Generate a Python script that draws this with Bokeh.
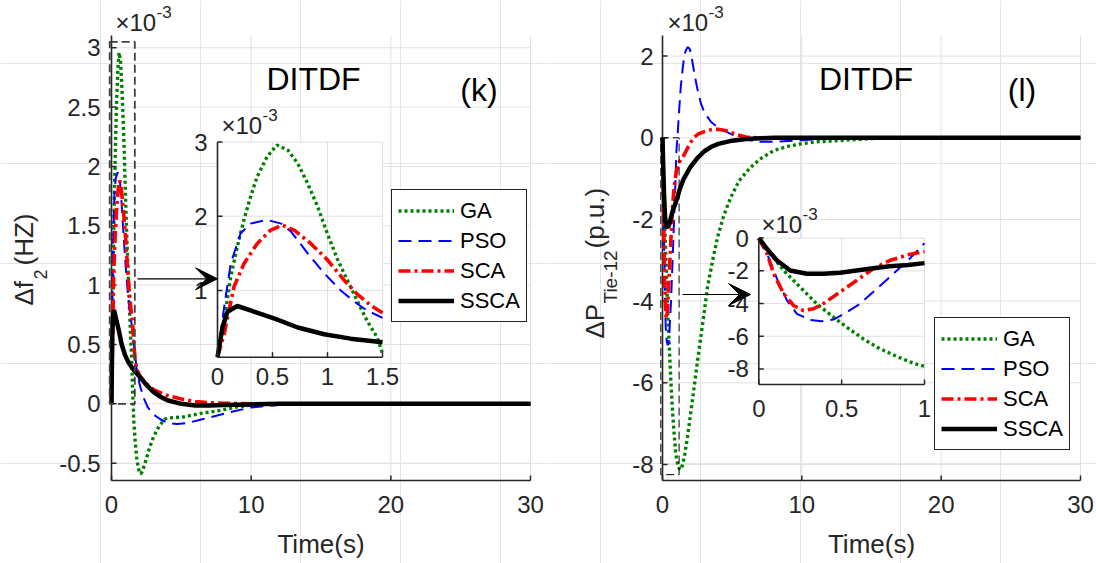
import math
from bokeh.plotting import figure
from bokeh.layouts import row
from bokeh.models import Range1d, Arrow, VeeHead, Legend, LegendItem
from bokeh.core.properties import value
from bokeh.embed import file_html
from bokeh.resources import INLINE

FONT = "Liberation Sans"
AX = "#262626"
GRID = "#e0e0e0"
H = 563

# ---------------- data (values in units of 1e-3) ----------------
series_names = ["GA", "PSO", "SCA", "SSCA"]

# panel (k): delta f2
k_ga_t = [0, 0.015, 0.06, 0.12, 0.18, 0.24, 0.30, 0.36, 0.45, 0.54, 0.64, 0.73, 0.82, 0.91, 1.0,
          1.09, 1.18, 1.27, 1.36, 1.45, 1.5, 1.6, 1.7, 1.8, 1.9, 2.0, 2.1, 2.2, 2.4, 2.7, 3.0,
          3.4, 3.8, 4.0, 5.2, 6.4, 7.6, 8.8, 10, 12, 30]
k_ga_y = [0, 0.19, 0.59, 1.18, 1.59, 1.95, 2.26, 2.53, 2.80, 2.96, 2.89, 2.71, 2.44, 2.13, 1.76,
          1.42, 1.14, 0.86, 0.59, 0.37, 0.15, -0.15, -0.32, -0.45, -0.53, -0.58, -0.59, -0.57,
          -0.50, -0.38, -0.28, -0.19, -0.13, -0.12, -0.11, -0.08, -0.06, -0.03, -0.01, 0, 0]

k_pso_t = [0, 0.06, 0.12, 0.21, 0.30, 0.45, 0.58, 0.67, 0.82, 0.97, 1.12, 1.27, 1.36, 1.5, 1.6,
           1.8, 2.0, 2.3, 2.6, 3.0, 3.5, 4.0, 4.7, 5.5, 6.5, 7.5, 8.5, 10, 12, 15, 30]
k_pso_y = [0, 0.77, 1.36, 1.77, 1.90, 1.95, 1.90, 1.79, 1.50, 1.23, 1.00, 0.82, 0.73, 0.63, 0.50,
           0.30, 0.17, 0.05, -0.03, -0.09, -0.13, -0.16, -0.17, -0.16, -0.13, -0.10, -0.07,
           -0.03, -0.01, 0, 0]

k_sca_t = [0, 0.06, 0.15, 0.24, 0.36, 0.48, 0.59, 0.70, 0.85, 1.0, 1.15, 1.27, 1.39, 1.5, 1.6,
           1.7, 1.8, 2.0, 2.5, 3, 4, 5, 6, 7, 8, 10, 30]
k_sca_y = [0, 0.41, 1.05, 1.36, 1.63, 1.81, 1.88, 1.81, 1.63, 1.41, 1.14, 0.95, 0.80, 0.70, 0.50,
           0.37, 0.30, 0.24, 0.17, 0.12, 0.07, 0.04, 0.02, 0.01, 0.005, 0, 0]

k_ssca_t = [0, 0.045, 0.09, 0.18, 0.30, 0.52, 0.73, 0.97, 1.21, 1.5, 2.0, 2.5, 3, 3.5, 4, 5, 6,
            7, 8, 10, 12, 30]
k_ssca_y = [0, 0.50, 0.71, 0.79, 0.73, 0.62, 0.50, 0.41, 0.35, 0.30, 0.23, 0.16, 0.10, 0.06,
            0.03, 0.0, -0.015, -0.015, -0.01, -0.005, 0, 0]

# panel (l): delta P tie-12
l_ga_t = [0, 0.07, 0.15, 0.25, 0.35, 0.45, 0.53, 0.63, 0.73, 0.84, 0.94, 1.0, 1.1, 1.2, 1.31,
          1.45, 1.6, 1.79, 2.0, 2.27, 2.5, 2.75, 3.0, 3.23, 3.6, 3.95, 4.4, 4.9, 5.5, 6.34, 7.0,
          8.0, 9.0, 9.9, 11, 12.6, 14, 16, 30]
l_ga_y = [0, -0.96, -1.98, -3.0, -4.02, -4.83, -5.44, -6.16, -6.76, -7.27, -7.68, -7.84, -8.0,
          -8.1, -8.13, -8.0, -7.75, -7.33, -6.8, -6.11, -5.5, -4.88, -4.25, -3.66, -3.0, -2.44,
          -1.9, -1.46, -1.05, -0.72, -0.52, -0.31, -0.21, -0.15, -0.10, -0.07, -0.04, 0, 0]

l_pso_t = [0, 0.05, 0.11, 0.17, 0.23, 0.31, 0.38, 0.45, 0.53, 0.61, 0.69, 0.79, 0.90, 1.0, 1.07,
           1.2, 1.31, 1.45, 1.55, 1.65, 1.8, 1.95, 2.1, 2.3, 2.5, 2.75, 3.0, 3.5, 4.0, 5.0, 6.0,
           7.0, 8.0, 9.0, 10, 12, 15, 30]
l_pso_y = [0, -0.96, -2.49, -3.81, -4.63, -5.0, -5.08, -4.98, -4.53, -4.02, -3.3, -2.39, -1.37,
           -0.31, 0, 0.7, 1.24, 1.7, 1.97, 2.12, 2.22, 2.18, 1.95, 1.55, 1.2, 0.85, 0.62, 0.38,
           0.25, 0.08, -0.05, -0.10, -0.10, -0.08, -0.06, -0.02, 0, 0]

l_sca_t = [0, 0.05, 0.09, 0.15, 0.21, 0.27, 0.33, 0.39, 0.49, 0.59, 0.69, 0.79, 0.90, 1.0, 1.2,
           1.5, 2.0, 2.3, 2.6, 3.0, 3.5, 4.0, 4.5, 5.0, 5.5, 6.0, 7.0, 8.0, 10, 30]
l_sca_y = [0, -0.96, -2.18, -3.4, -4.12, -4.43, -4.32, -4.0, -3.3, -2.59, -1.88, -1.37, -1.02,
           -0.82, -0.6, -0.45, -0.12, 0.02, 0.10, 0.15, 0.20, 0.21, 0.18, 0.12, 0.06, 0.02,
           -0.01, -0.01, 0, 0]

l_ssca_t = [0, 0.05, 0.11, 0.19, 0.29, 0.39, 0.49, 0.59, 0.69, 0.79, 0.90, 1.0, 1.25, 1.5, 2.0,
            2.5, 3.0, 3.5, 4.0, 5.0, 6.0, 7.0, 8.0, 30]
l_ssca_y = [0, -0.67, -1.37, -1.98, -2.18, -2.18, -2.12, -1.98, -1.84, -1.72, -1.64, -1.53,
            -1.25, -1.02, -0.72, -0.50, -0.33, -0.22, -0.15, -0.07, -0.03, -0.01, 0, 0]

main_xticks = [0, 10, 20, 30]
k_yticks = [-0.5, 0, 0.5, 1, 1.5, 2, 2.5, 3]
l_yticks = [-8, -6, -4, -2, 0, 2]
k_inset_xticks = [0, 0.5, 1, 1.5]
k_inset_yticks = [1, 2, 3]
l_inset_xticks = [0, 0.5, 1]
l_inset_yticks = [-8, -6, -4, -2, 0]

# ---------------- styles ----------------
STY = {
    "GA": dict(line_color="#008000", line_width=3.4, line_dash="3 3"),
    "PSO": dict(line_color="#0000ff", line_width=2, line_dash="13 7"),
    "SCA": dict(line_color="#ff0000", line_width=3.6, line_dash="12 4 3 4"),
    "SSCA": dict(line_color="#000000", line_width=4.5),
}


def Y(py):
    return H - py


def fmt(v):
    return f"{v:g}"


def txt(p, s, px, py, size, align="left", angle=0.0, color="black"):
    # (px, py): left/centre end of the text, vertical middle of the capitals
    p.text(x=[px], y=[Y(py)], text=[s], angle=angle, text_font=value(FONT),
           text_font_size=f"{size}px", text_align=align, text_baseline="middle",
           text_color=color)


def make_axes(p, box, xsrc, ysrc, gx, gy, bg=False):
    L, R, T, B = box
    sub = p.subplot(x_source=Range1d(*xsrc), y_source=Range1d(*ysrc),
                    x_target=Range1d(L, R), y_target=Range1d(Y(B), Y(T)))
    x0, x1 = xsrc
    y0, y1 = ysrc
    if bg:
        sub.quad(left=[x0], right=[x1], bottom=[y0], top=[y1], fill_color="white",
                 line_color=None)
    sub.segment(x0=gx, y0=[y0] * len(gx), x1=gx, y1=[y1] * len(gx), line_color=GRID,
                line_width=1)
    sub.segment(x0=[x0] * len(gy), y0=gy, x1=[x1] * len(gy), y1=gy, line_color=GRID,
                line_width=1)
    return sub


def finish_axes(sub, box, xsrc, ysrc, xticks, yticks, xgap, ygap, fsize):
    L, R, T, B = box
    x0, x1 = xsrc
    y0, y1 = ysrc
    sub.line([x0, x0], [y0, y1], line_color=AX, line_width=1.6)
    sub.line([x0, x1], [y0, y0], line_color=AX, line_width=1.6)
    dx = 5 * (x1 - x0) / (R - L)
    dy = 5 * (y1 - y0) / (B - T)
    sub.segment(x0=xticks, y0=[y0] * len(xticks), x1=xticks, y1=[y0 + dy] * len(xticks),
                line_color=AX, line_width=1.5)
    sub.segment(x0=[x0] * len(yticks), y0=yticks, x1=[x0 + dx] * len(yticks), y1=yticks,
                line_color=AX, line_width=1.5)
    sub.text(x=xticks, y=[y0] * len(xticks), text=[fmt(v) for v in xticks], y_offset=xgap,
             text_align="center", text_baseline="top", text_font=value(FONT),
             text_font_size=f"{fsize}px", text_color=AX)
    sub.text(x=[x0] * len(yticks), y=yticks, text=[fmt(v) for v in yticks], x_offset=-ygap,
             text_align="right", text_baseline="middle", text_font=value(FONT),
             text_font_size=f"{fsize}px", text_color=AX)


def make_panel(origin, main, inset, data, legend_loc, box, arrow, ylabel_parts, tags,
               expo_main, expo_inset):
    p = figure(width=548, height=H, x_range=Range1d(origin, origin + 548),
               y_range=Range1d(0, H), x_axis_location=None, y_axis_location=None,
               output_backend="svg", toolbar_location=None, min_border=0)
    p.outline_line_color = None
    p.background_fill_color = "white"
    p.border_fill_color = "white"

    # ---- main axes ----
    mbox, mx, my, mxt, myt, mxgap, mygap = main
    msub = make_axes(p, mbox, mx, my, [v for v in mxt if v > mx[0]], myt)
    finish_axes(msub, mbox, mx, my, mxt, myt, mxgap, mygap, 24)
    rends = {}
    for name in series_names:
        t, y = data[name]
        rends[name] = msub.line(t, y, **STY[name])
    bl, br, bb, bt, bcol, bw = box
    msub.quad(left=[bl], right=[br], bottom=[bb], top=[bt], fill_color=None,
              line_color=bcol, line_width=bw, line_dash="8 4")

    # ---- inset ----
    ibox, ix, iy, ixt, iyt, ixgap, iygap = inset
    isub = make_axes(p, ibox, ix, iy, [v for v in ixt if v > ix[0]],
                     [v for v in iyt if v > iy[0]], bg=True)
    for name in series_names:
        t, y = data[name]
        tt = [a for a in t if a <= ix[1] + 1e-9]
        yy = [min(max(b, iy[0]), iy[1]) for a, b in zip(t, y) if a <= ix[1] + 1e-9]
        isub.line(tt, yy, **STY[name])
    finish_axes(isub, ibox, ix, iy, ixt, iyt, ixgap, iygap, 24)

    # ---- arrow ----
    ax0, ax1, ay = arrow
    p.add_layout(Arrow(end=VeeHead(size=22, fill_color="black", line_color="black"),
                       x_start=ax0, y_start=Y(ay), x_end=ax1, y_end=Y(ay),
                       line_color="black", line_width=1.2))

    # ---- legend ----
    lx, lbottom = legend_loc
    leg = Legend(items=[LegendItem(label=n, renderers=[rends[n]]) for n in series_names],
                 location=(lx - origin, H - lbottom), orientation="vertical",
                 border_line_color=AX, border_line_width=1, border_line_alpha=1,
                 background_fill_color="white", background_fill_alpha=1,
                 label_text_font=FONT, label_text_font_size="22px", label_text_color="black",
                 glyph_width=56, glyph_height=29, label_height=29, spacing=1, padding=6,
                 margin=0, label_standoff=6)
    p.add_layout(leg)

    # ---- texts ----
    L, R, T, B = mbox
    txt(p, "Time(s)", (L + R) / 2, 543, 26, align="center", color=AX)
    for s, px, py, size in ylabel_parts:
        txt(p, s, px, py, size, angle=math.pi / 2, color=AX)
    for s, px, py in tags:
        txt(p, s, px, py, 32, align="center")
    for ex, ey in (expo_main, expo_inset):
        txt(p, "\u00d710", ex, ey, 24, color=AX)
        txt(p, "-3", ex + 41, ey - 10.5, 17, color=AX)
    return p


data_k = {"GA": (k_ga_t, k_ga_y), "PSO": (k_pso_t, k_pso_y), "SCA": (k_sca_t, k_sca_y),
          "SSCA": (k_ssca_t, k_ssca_y)}
data_l = {"GA": (l_ga_t, l_ga_y), "PSO": (l_pso_t, l_pso_y), "SCA": (l_sca_t, l_sca_y),
          "SSCA": (l_ssca_t, l_ssca_y)}

p1 = make_panel(
    0,
    ((111, 530, 35, 480), (0, 30), (-0.646, 3.103), main_xticks, k_yticks, 15, 11),
    ((217, 382, 141.5, 356.7), (0, 1.5), (0.1, 3.0), k_inset_xticks, k_inset_yticks, 11, 10),
    data_k, (391, 322), (-0.13, 1.67, 0.0, 3.05, "#404040", 1.8), (137, 217, 278.3),
    [("\u0394f", 23, 305, 26), ("2", 39.5, 279, 18), ("(HZ)", 23, 265, 26)],
    [("DITDF", 313, 78.5), ("(k)", 478.5, 89)], (115, 21.5), (221, 124.5))

p2 = make_panel(
    548,
    ((662, 1080, 35, 480), (0, 30), (-8.393, 2.505), main_xticks, l_yticks, 15, 9),
    ((758.3, 924, 237.6, 384), (0, 1), (-8.95, 0), l_inset_xticks, l_inset_yticks, 15, 10),
    data_l, (934, 450), (-0.12, 1.19, -8.25, 0.0, "#000000", 1.0), (682, 750, 294),
    [("\u0394P", 594, 338, 26), ("Tie-12", 610, 303, 19), ("(p.u.)", 594, 248, 26)],
    [("DITDF", 865.5, 78.5), ("(l)", 1021.5, 89)], (667, 21.5), (761, 223.5))

layout = row(p1, p2, spacing=0)
open("out.html", "w").write(file_html(layout, INLINE))
